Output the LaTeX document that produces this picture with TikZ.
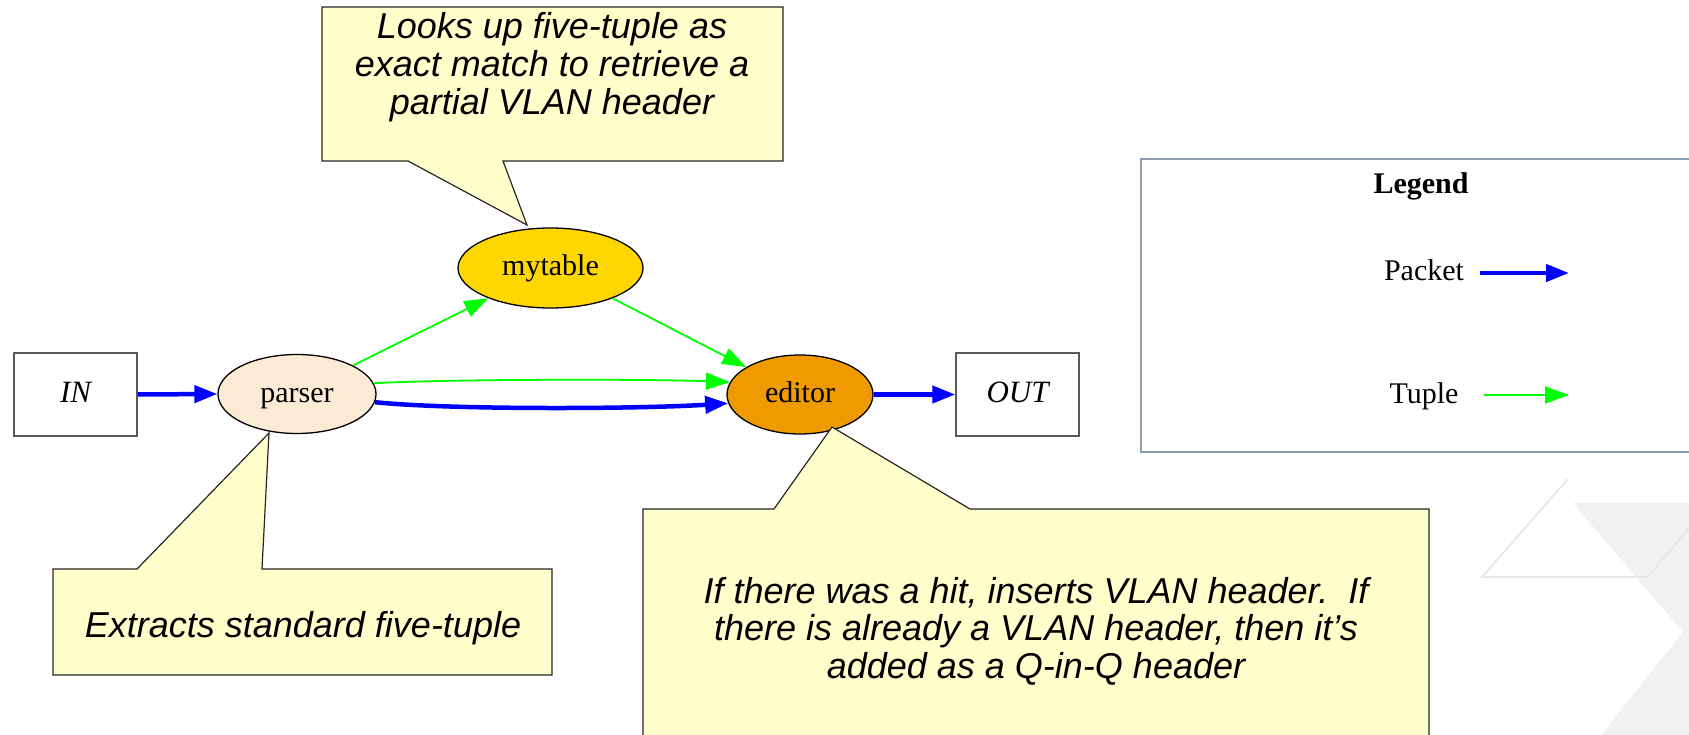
\documentclass[tikz,border=0pt]{standalone}
\usepackage{fontspec}
\setmainfont{Liberation Serif}
\newfontfamily\notefont{Liberation Sans}
\usetikzlibrary{shapes.geometric,arrows.meta}

\definecolor{pktblue}{HTML}{0000FF}
\definecolor{tplgreen}{HTML}{00FF00}
\definecolor{parserfill}{HTML}{FCEBD4}
\definecolor{tablefill}{HTML}{FFD700}
\definecolor{editorfill}{HTML}{EE9A00}
\definecolor{notefill}{HTML}{FFFFCC}
\definecolor{frameblue}{HTML}{8C9DB2}
\definecolor{decofill}{HTML}{F0F1F1}
\definecolor{decoline}{HTML}{E6E7E7}

\begin{document}
\begin{tikzpicture}[x=1pt,y=-1pt,
  lbl/.style={font=\fontsize{30}{36}\selectfont, text height=20pt, text depth=4pt},
  stage/.style={ellipse, draw=black, line width=1.3pt, inner sep=0pt, lbl},
  port/.style={rectangle, draw=black!65, line width=1.4pt, minimum width=123pt, minimum height=83pt,
               font=\fontsize{31}{36}\selectfont\itshape, text height=20pt, text depth=4pt},
  packet/.style={draw=pktblue, line width=4.5pt, -{Triangle[length=23pt,width=17pt]}},
  tuple/.style={draw=tplgreen, line width=1.8pt, -{Triangle[length=24pt,width=17pt]}},
  callout/.style={fill=notefill, draw=black!85, line width=1.2pt, line join=miter},
  notetext/.style={anchor=base, inner sep=0pt, font=\notefont\itshape\fontsize{36}{38}\selectfont},
  legendtext/.style={anchor=base, inner sep=0pt, font=\fontsize{30}{36}\selectfont},
]
\useasboundingbox (0,0) rectangle (1689,735);
\begin{scope}
\clip (0,0) rectangle (1689,735);

% faint chevron backdrop in the lower right corner
\fill[decofill] (1573,503) -- (1700,503) -- (1700,745) -- (1593,745) -- (1683,632) -- cycle;
\draw[decoline, line width=1.6pt] (1568,479) -- (1482,577) -- (1648,577) -- (1700,515);

% legend frame
\draw[frameblue, line width=2pt] (1141,159) rectangle (1700,452);
\node[legendtext, font=\fontsize{30}{36}\selectfont\bfseries] (lgd) at (1421,194) {Legend};
\node[legendtext] (lpk) at (1424,281) {Packet};
\node[legendtext] (ltp) at (1424,403) {Tuple};
\coordinate (pkA) at (1480,273);
\coordinate (pkB) at (1569,273);
\coordinate (tpA) at (1484,395);
\coordinate (tpB) at (1569,395);
\draw[packet] (pkA) -- (pkB);
\draw[tuple] (tpA) -- (tpB);

% pipeline
\node[port] (in) at (75.5,394.5) {IN};
\node[stage, fill=parserfill, minimum width=158pt, minimum height=79pt] (parser) at (297,394) {parser};
\node[stage, fill=tablefill, minimum width=185pt, minimum height=80pt] (mytable) at (550.5,268) {mytable};
\node[stage, fill=editorfill, minimum width=146pt, minimum height=79pt] (editor) at (800,394.5) {editor};
\node[port] (out) at (1017.5,394.5) {OUT};

\draw[packet] (in.east) -- (parser.west);
\draw[tuple] (parser.27) -- (mytable.206);
\draw[tuple] (mytable.-26) -- (editor.153);
\draw[tuple] (parser.8) .. controls (450,379) and (650,379) .. (editor.170);
\draw[packet] (parser.-6) .. controls (450,410) and (640,409) .. (editor.187);
\draw[packet] (editor.east) -- (out.west);

% annotation callouts
\coordinate (tipT) at (527,225);
\draw[callout] (322,7) -- (783,7) -- (783,161) -- (503,161) -- (tipT) -- (408,161) -- (322,161) -- cycle;
\node[notetext] (nt1) at (552,39) {Looks up five-tuple as};
\node[notetext] (nt2) at (552,77) {exact match to retrieve a};
\node[notetext] (nt3) at (552,115) {partial VLAN header};

\coordinate (tipL) at (269,433);
\draw[callout] (53,569) -- (137,569) -- (tipL) -- (262,569) -- (552,569) -- (552,675) -- (53,675) -- cycle;
\node[notetext] (nl1) at (303,637) {Extracts standard five-tuple};

\coordinate (tipR) at (832,427);
\draw[callout] (643,509) -- (774,509) -- (tipR) -- (970,509) -- (1429,509) -- (1429,745) -- (643,745) -- cycle;
\node[notetext] (nr1) at (1036,603) {If there was a hit, inserts VLAN header.\ \ If};
\node[notetext] (nr2) at (1036,640.5) {there is already a VLAN header, then it’s};
\node[notetext] (nr3) at (1036,678) {added as a Q-in-Q header};
\end{scope}
\end{tikzpicture}
\end{document}
